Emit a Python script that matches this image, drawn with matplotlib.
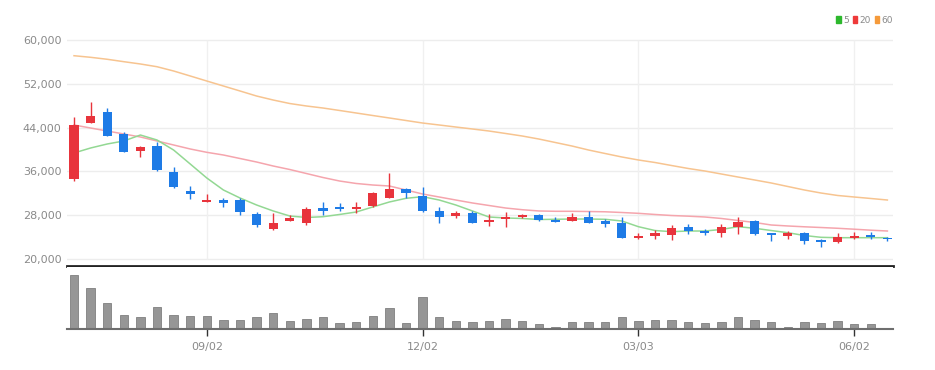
import numpy as np
import matplotlib
matplotlib.use('Agg')
import matplotlib.pyplot as plt
from matplotlib.patches import Patch

# weekly candles, 2024-07-08 .. 2025-06-16
opens = [34610, 44890, 46790, 42770, 39780, 40630, 35940, 32470, 30460, 30720,
         30770, 28220, 25530, 26940, 26570, 29310, 29550, 29180, 29620, 31190,
         32780, 31560, 28760, 27800, 28450, 26810, 27250, 27670, 28020, 27120,
         26990, 27720, 26880, 26520, 23890, 24200, 24380, 25900, 25170, 24690,
         25790, 26990, 24690, 24200, 24690, 23470, 23100, 23840, 24330, 23890]
highs = [45930, 48610, 47520, 43140, 40630, 41420, 36850, 33390, 31870, 31140,
         31190, 28580, 28350, 28030, 29440, 30460, 30280, 30460, 32290, 35760,
         32910, 33200, 29440, 28710, 28770, 28160, 28580, 28270, 28130, 27620,
         28350, 28770, 27250, 27620, 24800, 25300, 26150, 26390, 25530, 26390,
         27620, 27120, 24800, 25110, 24990, 23600, 24800, 24990, 24990, 24070]
lows = [34240, 44830, 42410, 39480, 38570, 36120, 33020, 30900, 30460, 29440,
        28030, 25790, 25300, 26940, 26260, 28030, 28820, 28450, 29500, 31050,
        31190, 28640, 26630, 27430, 26520, 26030, 25790, 27490, 26880, 26760,
        26880, 26520, 25900, 23780, 23710, 23600, 23470, 24570, 24380, 23960,
        24510, 24440, 23340, 23710, 22740, 22250, 22980, 23710, 23600, 23340]
closes = [44470, 46170, 42520, 39590, 40510, 36310, 33200, 31870, 30770, 30170,
          28530, 26210, 26630, 27430, 29180, 28710, 29080, 29550, 32000, 32730,
          32110, 28760, 27720, 28450, 26570, 27120, 27620, 28030, 27120, 26760,
          27720, 26630, 26390, 23890, 24200, 24690, 25720, 25170, 24800, 25790,
          26810, 24570, 24330, 24690, 23290, 23100, 24070, 24200, 24020, 23650]
volumes = [540, 406, 256, 140, 116, 216, 140, 133, 133, 90,
           90, 120, 163, 83, 100, 116, 63, 70, 133, 206,
           63, 316, 116, 83, 66, 83, 103, 83, 50, 16,
           70, 70, 70, 116, 83, 90, 90, 70, 56, 66,
           120, 90, 66, 20, 70, 56, 83, 50, 50, 7]

ma5 = [39360, 40270, 41000, 41550, 42640, 41730, 39900, 37350, 34790, 32600,
       31140, 29860, 28770, 27850, 27580, 27720, 28130, 28580, 29500, 30410,
       31080, 31380, 30770, 29860, 28770, 27670, 27490, 27400, 27210, 27250,
       27300, 27300, 27250, 26940, 25900, 25200, 24990, 25110, 25110, 25390,
       25900, 25610, 25200, 24800, 24290, 23960, 23890, 23890, 23890, 23890]
ma20 = [44470, 43920, 43370, 42830, 42280, 41550, 40820, 40090, 39480, 38990,
        38350, 37710, 36980, 36340, 35610, 34880, 34240, 33790, 33510, 33330,
        32600, 31870, 31320, 30770, 30230, 29770, 29310, 29000, 28770, 28710,
        28710, 28670, 28620, 28490, 28340, 28130, 27940, 27820, 27670, 27400,
        27030, 26670, 26210, 26030, 25880, 25750, 25610, 25440, 25260, 25110]
ma60 = [57120, 56830, 56470, 56030, 55610, 55110, 54330, 53420, 52500, 51590,
        50680, 49760, 49030, 48390, 47940, 47570, 47120, 46660, 46200, 45750,
        45290, 44830, 44470, 44100, 43740, 43370, 42920, 42460, 41910, 41270,
        40630, 39900, 39260, 38630, 38080, 37620, 37070, 36530, 36070, 35520,
        34970, 34430, 33880, 33240, 32600, 32050, 31600, 31320, 31050, 30770]

tick_pos = [8, 21, 34, 47]
tick_labels = ['09/02', '12/02', '03/03', '06/02']
price_ticks = [20000, 28000, 36000, 44000, 52000, 60000]

UP = '#e8343c'
DOWN = '#1e7be6'
TXT = '#8a8a8a'
FONT = ['Liberation Sans Narrow', 'DejaVu Sans']

fig = plt.figure(figsize=(9.35, 3.7), dpi=100)
ax = fig.add_axes([0.0717, 0.2811, 0.8834, 0.6378])
axv = fig.add_axes([0.0717, 0.1108, 0.8834, 0.1676], sharex=ax)

x = np.arange(len(opens))
o = np.array(opens)
c = np.array(closes)
colors = np.where(c >= o, UP, DOWN)

# grid
for p in price_ticks:
    ax.axhline(p, color='#ededed', lw=1, zorder=0)
ax.vlines(tick_pos, price_ticks[0], price_ticks[-1], color='#f0f0f0', lw=1, zorder=0)

# moving averages
ax.plot(x, ma60, color='#f7c490', lw=1.1, zorder=1)
ax.plot(x, ma20, color='#f5a5ad', lw=1.1, zorder=1)
ax.plot(x, ma5, color='#93d893', lw=1.1, zorder=1)

# candles
ax.vlines(x, lows, highs, color=colors, lw=1, zorder=2)
body = np.maximum(np.abs(c - o), 150)
ax.bar(x, body, bottom=np.minimum(o, c), width=0.55, color=colors, zorder=3)

ax.set_xlim(-0.42, 49.34)
ax.set_ylim(18722, 61815)
ax.set_yticks(price_ticks)
ax.set_yticklabels([f'{p:,}' for p in price_ticks], family=FONT, fontsize=8, color=TXT)
ax.tick_params(axis='y', length=0, pad=4)
ax.tick_params(axis='x', bottom=False, labelbottom=False)
for s in ['top', 'right', 'left']:
    ax.spines[s].set_visible(False)
ax.spines['bottom'].set_color('#222222')
ax.spines['bottom'].set_linewidth(2)

# volume
axv.bar(x, volumes, width=0.5, color='#969696', edgecolor='#7f7f7f', lw=0.6)
axv.set_ylim(0, 620)
axv.set_yticks([])
for s in ['top', 'right', 'left']:
    axv.spines[s].set_visible(False)
axv.spines['bottom'].set_color('#6e6e6e')
axv.spines['bottom'].set_linewidth(1.5)
axv.set_xticks(tick_pos)
axv.set_xticklabels(tick_labels, family=FONT, fontsize=8, color=TXT)
axv.tick_params(axis='x', length=5, width=1, color='#333333', pad=4)

handles = [Patch(color='#2db82d', label='5'),
           Patch(color='#ee3a3a', label='20'),
           Patch(color='#f59a3a', label='60')]
fig.legend(handles=handles, loc='center right', bbox_to_anchor=(0.96, 0.945),
           ncol=3, frameon=False, handlelength=0.45, handleheight=0.9,
           handletextpad=0.25, columnspacing=0.5, borderpad=0,
           prop={'family': FONT, 'size': 6.5}, labelcolor=TXT)

fig.savefig('out.png', dpi=100)
